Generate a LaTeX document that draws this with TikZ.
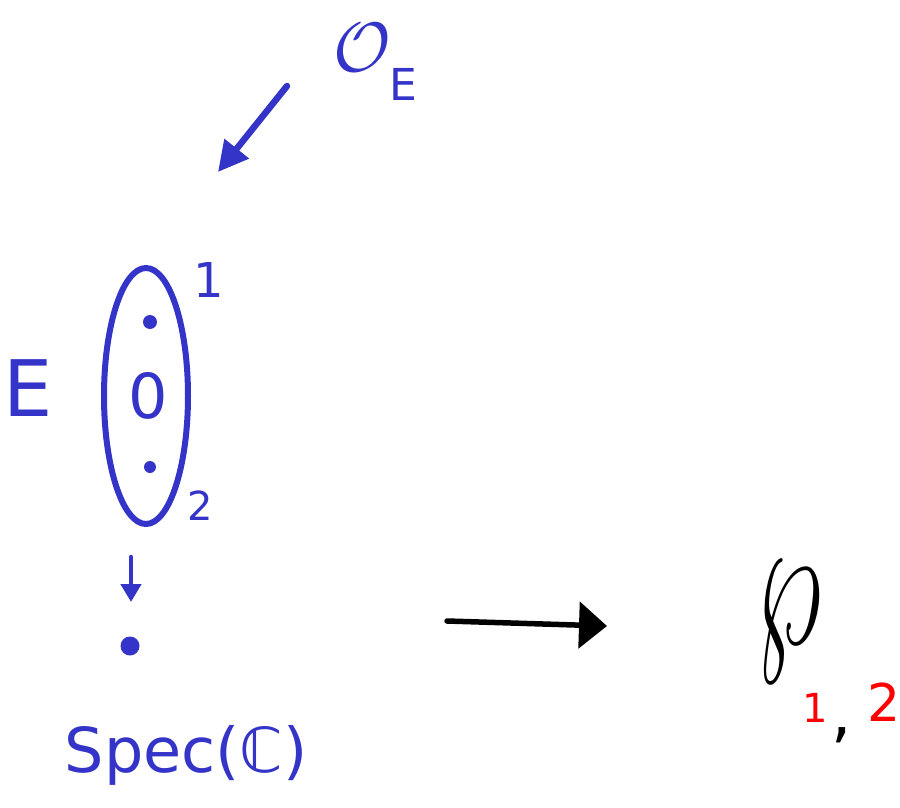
\RequirePackage{fix-cm}
\documentclass[tikz,border=0pt]{standalone}
\usepackage{fontspec}
\setmainfont{DejaVu Sans}
\usepackage{amssymb}
\usetikzlibrary{arrows.meta,shapes.geometric}
\definecolor{ink}{RGB}{52,52,200}
\definecolor{redink}{RGB}{255,0,0}
\newcommand{\fsz}[1]{\fontsize{#1}{#1}\selectfont}
\begin{document}
\begin{tikzpicture}[x=1pt,y=-1pt,
  lbl/.style={inner sep=0pt, anchor=center},
  dotmark/.style={circle, fill=ink, inner sep=0pt},
  bluearrow/.style={draw=ink, line cap=round, line join=round},
]
\useasboundingbox (0,0) rectangle (900,808);
% O_E
\node[lbl, text=ink, font=\fsz{70}] (O) at (362,48) {$\mathcal{O}$};
\node[lbl, text=ink, font=\fsz{44}] (OEsub) at (403,84) {E};
% arrow to E
\coordinate (a1) at (287,86);
\coordinate (a2) at (218,172);
\draw[bluearrow, line width=6.5, -{Triangle[length=30,width=30]}] (a1) -- (a2);
% fibre E
\node[ellipse, draw=ink, line width=6, minimum width=84, minimum height=256] (Ell) at (146,396) {};
\node[dotmark, minimum size=14] (d1) at (150,322) {};
\node[lbl, text=ink, font=\fsz{62}] (zero) at (148,396) {0};
\node[dotmark, minimum size=12] (d2) at (150,467) {};
\node[lbl, text=ink, font=\fsz{48}] (one) at (209,280) {1};
\node[lbl, text=ink, font=\fsz{40}] (two) at (200,506) {2};
\node[lbl, text=ink, font=\fsz{78}] (Elab) at (28,388) {E};
% small down arrow
\coordinate (b1) at (131,557);
\coordinate (b2) at (131,602);
\draw[bluearrow, line width=4.5, -{Triangle[length=18,width=20]}] (b1) -- (b2);
\node[dotmark, minimum size=19] (pt) at (130,646) {};
\node[lbl, text=ink, font=\fsz{62}] (spec) at (186,755) {Spec(ℂ)};
% black arrow
\coordinate (c1) at (447,621);
\coordinate (c2) at (607,626);
\draw[line width=5.5, line cap=round, -{Triangle[length=28,width=46]}] (c1) -- (c2);
% wp_{1,2}
\node[lbl, font=\fsz{190}] (wp) at (789,622) {\scalebox{0.55}[1]{$\wp$}};
\node[lbl, text=redink, font=\fsz{40}] (s1) at (815,708) {1};
\node[lbl, font=\fsz{64}] (comma) at (842,735) {,};
\node[lbl, text=redink, font=\fsz{52}] (s2) at (884,702) {2};
\end{tikzpicture}
\end{document}
